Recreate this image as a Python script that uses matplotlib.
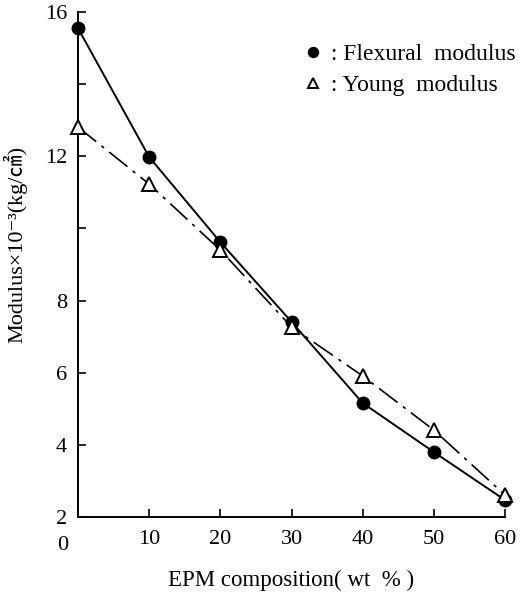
import matplotlib.pyplot as plt

# EPM composition (wt %) and moduli (x 10^-3 kg/cm2)
epm = [0, 10, 20, 30, 40, 50, 60]
flexural = [15.55, 11.98, 9.62, 7.41, 5.16, 3.80, 2.47]
young = [12.81, 11.23, 9.40, 7.27, 5.91, 4.41, 2.61]

y_ticks = [2, 4, 6, 8, 10, 12, 14, 16]
y_labels = ["2", "4", "6", "8", "", "12", "", "16"]
x_ticks = [10, 20, 30, 40, 50, 60]

plt.rcParams["font.family"] = ["Liberation Serif", "Noto Sans CJK JP", "DejaVu Sans"]

fig = plt.figure(figsize=(5.24, 5.92), dpi=100)
ax = fig.add_axes([78 / 524, 75 / 592, 427 / 524, 505 / 592])

# curves
ax.plot(epm, flexural, color="black", lw=1.4, clip_on=False, zorder=2)
ax.plot(epm, young, color="black", lw=1.2, dashes=(14, 4, 2, 4), clip_on=False, zorder=2)

# markers
ax.plot(epm, flexural, "o", ms=9, color="black", clip_on=False, zorder=3,
        label=" : Flexural  modulus")
ax.plot(epm, young, "^", ms=9.5, mfc="white", mec="black", mew=1.4, clip_on=False,
        zorder=4, label=" : Young  modulus")

ax.set_xlim(0, 60)
ax.set_ylim(2, 16)
ax.spines["top"].set_visible(False)
ax.spines["right"].set_visible(False)
ax.spines["left"].set_linewidth(1.4)
ax.spines["bottom"].set_linewidth(1.4)

ax.set_xticks(x_ticks)
ax.set_xticklabels([str(v) for v in x_ticks])
ax.set_yticks(y_ticks)
ax.set_yticklabels(y_labels)
ax.tick_params(direction="in", length=6, width=1.2, labelsize=16)
ax.tick_params(axis="y", pad=8)
ax.tick_params(axis="x", pad=9)
ax.text(-0.037, -0.056, "0", transform=ax.transAxes, fontsize=16,
        ha="center", va="center")

ax.set_xlabel("EPM composition( wt  % )", fontsize=16.5)
ax.xaxis.set_label_coords(0.5, -0.105)
ax.set_ylabel("Modulus×10⁻³(kg/㎠)", fontsize=16)
ax.yaxis.set_label_coords(-0.118, 0.539)

leg = ax.legend(loc="upper right", bbox_to_anchor=(1.075, 0.98), frameon=False,
                fontsize=17, handlelength=0.6, handletextpad=0.2,
                labelspacing=0.4, markerscale=0.8)

fig.savefig("out.png", dpi=100)
